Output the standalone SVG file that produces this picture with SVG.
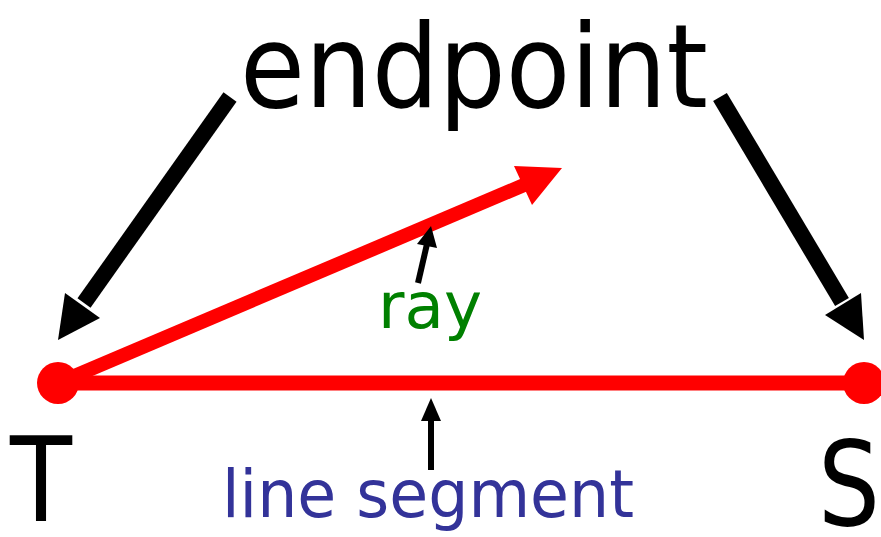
<svg xmlns="http://www.w3.org/2000/svg" width="881" height="537" viewBox="0 0 881 537">
<style>
.lbl{font-family:"DejaVu Sans","Liberation Sans",sans-serif;}
.blk{stroke:#000;fill:none;}
.red{stroke:#ff0000;fill:none;}
</style>
<rect width="881" height="537" fill="#fff"/>
<g id="connectors">
  <line class="blk" x1="230" y1="97" x2="84" y2="303" stroke-width="16"/>
  <polygon points="58,340 65,293 100,318" fill="#000"/>
  <line class="blk" x1="720" y1="97" x2="842" y2="302" stroke-width="16"/>
  <polygon points="864,340 825,315 861,293" fill="#000"/>
  <line class="red" x1="58" y1="383" x2="864" y2="383" stroke-width="15"/>
  <line class="red" x1="58" y1="383" x2="524" y2="185" stroke-width="14"/>
  <polygon points="562,168 514,166 532,205" fill="#ff0000"/>
  <line class="blk" x1="418" y1="283" x2="427" y2="244" stroke-width="6"/>
  <polygon points="431,226 417,244 437,248" fill="#000"/>
  <line class="blk" x1="431" y1="470" x2="431" y2="418" stroke-width="6"/>
  <polygon points="431,398 421,421 441,421" fill="#000"/>
</g>
<g id="T">
  <circle cx="58" cy="383" r="21" fill="#ff0000"/>
  <text class="lbl" x="10" y="521" font-size="118" textLength="62" lengthAdjust="spacingAndGlyphs" fill="#000">T</text>
</g>
<g id="S">
  <circle cx="864" cy="383" r="21" fill="#ff0000"/>
  <text class="lbl" x="818" y="525" font-size="118" textLength="62" lengthAdjust="spacingAndGlyphs" fill="#000">S</text>
</g>
<g id="endpoint">
  <text class="lbl" x="240" y="107" font-size="116" textLength="468" lengthAdjust="spacingAndGlyphs" fill="#000">endpoint</text>
</g>
<g id="ray">
  <text class="lbl" x="378" y="328" font-size="64" textLength="104" lengthAdjust="spacingAndGlyphs" fill="#008000">ray</text>
</g>
<g id="line-segment">
  <text class="lbl" x="222" y="517" font-size="66" textLength="412" lengthAdjust="spacingAndGlyphs" fill="#333399">line segment</text>
</g>
</svg>
